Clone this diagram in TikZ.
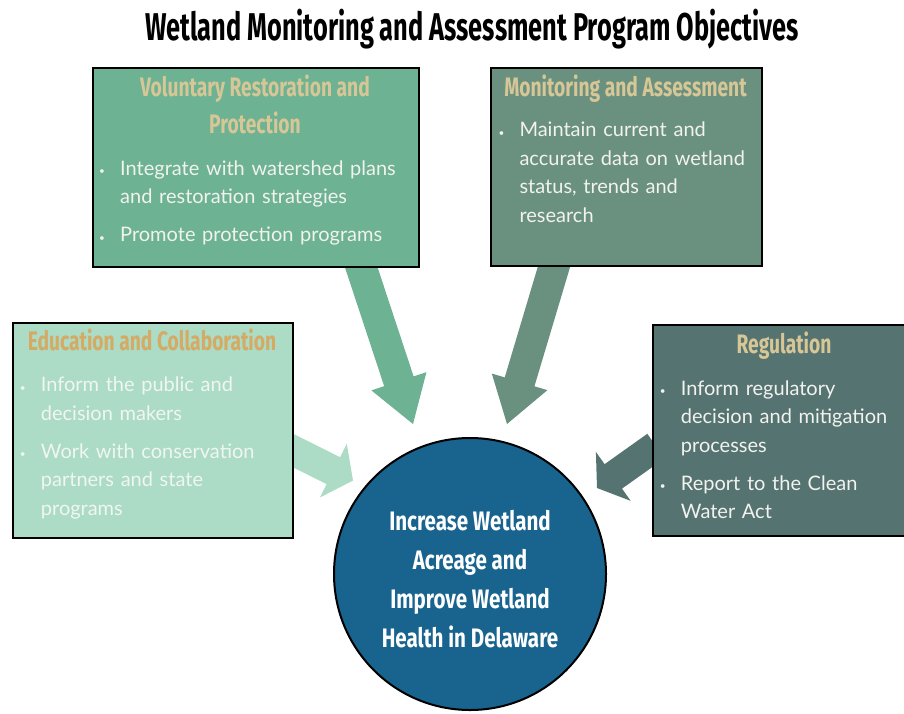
\documentclass[tikz,border=0pt]{standalone}
\usepackage{fontspec}
\setmainfont{Lato}
\newfontfamily\oswf[FakeStretch=0.72]{Fira Sans}
\newfontfamily\ttlf[FakeStretch=0.655]{Fira Sans}
\newfontfamily\circf[FakeStretch=0.77]{Fira Sans}
\usetikzlibrary{calc}
\definecolor{cvol}{HTML}{6CB293}
\definecolor{cmon}{HTML}{6A9180}
\definecolor{cedu}{HTML}{ACDBC6}
\definecolor{creg}{HTML}{557471}
\definecolor{ccirc}{HTML}{18648E}
\definecolor{chdr}{HTML}{D7C696}
\definecolor{chdredu}{HTML}{D4AA64}
\definecolor{ctxt}{HTML}{F2F2EE}
\definecolor{ctxtedu}{HTML}{F0F6F2}
\newcommand\bitem[1]{{\leftskip=21pt\noindent\llap{\makebox[21pt][l]{\raisebox{0.5pt}{\fontsize{10}{10}\selectfont •}}}#1\par}}
\newcommand\itemgap{\vspace{9.5pt}}
\newcommand\blockarrow[7]{%
  \coordinate (#1-b) at ($(#4)!#7!(#3)$);
  \fill[#2] ($(#3)!#5!90:(#4)$) -- ($(#1-b)!#5!90:(#4)$) -- ($(#1-b)!#6!90:(#4)$)
    -- (#4) -- ($(#1-b)!#6!-90:(#4)$) -- ($(#1-b)!#5!-90:(#4)$) -- ($(#3)!#5!-90:(#4)$) -- cycle;
}
\tikzset{
  box/.style={draw=black, line width=2pt, anchor=north west, inner sep=0pt},
  hdr/.style={anchor=base, inner sep=0pt, text=chdr, font=\oswf\bfseries\fontsize{26.7}{30}\selectfont},
  ttl/.style={anchor=base, inner sep=0pt, text=black, font=\ttlf\bfseries\fontsize{38.7}{44}\selectfont},
  body/.style={anchor=base west, inner sep=0pt, text=ctxt, text width=330pt, align=left, font=\fontsize{20}{28.5}\selectfont},
  ctext/.style={anchor=base, inner sep=0pt, text=white, font=\circf\bfseries\fontsize{26.7}{30}\selectfont},
}
\begin{document}
\begin{tikzpicture}[x=1pt, y=-1pt]
\useasboundingbox (0,0) rectangle (904,713);
\fill[white] (0,0) rectangle (904,713);

% arrow end points
\coordinate (a1s) at (359.5,262);
\coordinate (a1t) at (413,424);
\coordinate (a2s) at (555.4,262);
\coordinate (a2t) at (507,424);
\coordinate (a3s) at (286,447);
\coordinate (a3t) at (353,480.5);
\coordinate (a4s) at (656,446);
\coordinate (a4t) at (597,488);

\blockarrow{a1}{cvol}{a1s}{a1t}{15.5pt}{29pt}{45pt}
\blockarrow{a2}{cmon}{a2s}{a2t}{15.5pt}{29pt}{44pt}
\blockarrow{a3}{cedu}{a3s}{a3t}{15pt}{30pt}{22pt}
\blockarrow{a4}{creg}{a4s}{a4t}{15pt}{30pt}{20pt}

% boxes
\node[box, fill=cvol, minimum width=326pt, minimum height=199pt] (bvol) at (92,67) {};
\node[box, fill=cmon, minimum width=271pt, minimum height=198pt] (bmon) at (490,67) {};
\node[box, fill=cedu, minimum width=280pt, minimum height=215pt] (bedu) at (12,321.5) {};
\node[box, fill=creg, minimum width=262pt, minimum height=211pt] (breg) at (651.5,324) {};

% circle
\node[circle, draw=black, line width=2pt, fill=ccirc, minimum size=272pt, inner sep=0pt] (goal) at (470,574) {};

% title
\node[ttl] (title) at (472,40) {Wetland Monitoring and Assessment Program Objectives};

% headers
\node[hdr] (hvol1) at (255,96.7) {Voluntary Restoration and};
\node[hdr] (hvol2) at (255,133) {Protection};
\node[hdr] (hmon) at (625.5,96) {Monitoring and Assessment};
\node[hdr, text=chdredu] (hedu) at (152,350) {Education and Collaboration};
\node[hdr] (hreg) at (784,353.3) {Regulation};

% bullet lists
\node[body] (lvol) at (99,175) {\bitem{Integrate with watershed plans\\and restoration strategies}\itemgap\bitem{Promote protection programs}};
\node[body] (lmon) at (498.3,136.7) {\bitem{Maintain current and\\accurate data on wetland\\status, trends and\\research}};
\node[body, text=ctxtedu] (ledu) at (19.7,391.7) {\bitem{Inform the public and\\decision makers}\itemgap\bitem{Work with conservation\\partners and state\\programs}};
\node[body] (lreg) at (659.7,395) {\bitem{Inform regulatory\\decision and mitigation\\processes}\itemgap\bitem{Report to the Clean\\Water Act}};

% circle text
\node[ctext] (g1) at (470,530) {Increase Wetland};
\node[ctext] (g2) at (470,569) {Acreage and};
\node[ctext] (g3) at (470,608) {Improve Wetland};
\node[ctext] (g4) at (470,647) {Health in Delaware};
\end{tikzpicture}
\end{document}
